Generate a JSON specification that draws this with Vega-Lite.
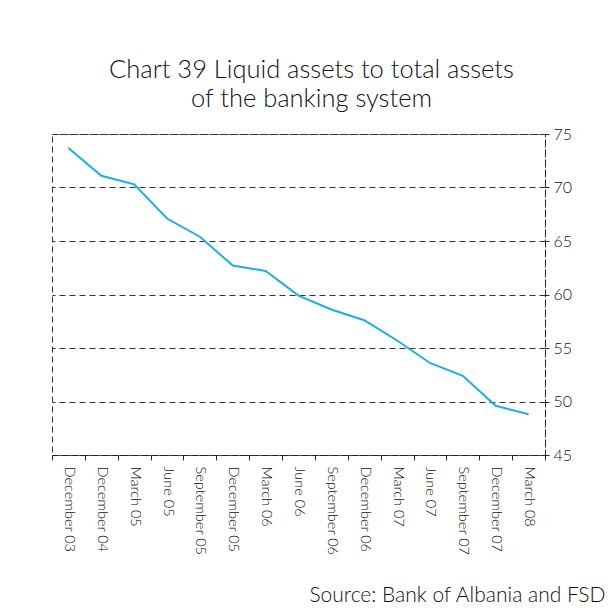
{
  "$schema": "https://vega.github.io/schema/vega-lite/v6.json",
  "width": 493,
  "height": 321,
  "autosize": {"type": "none"},
  "padding": {"left": 52, "top": 134, "right": 69, "bottom": 157},
  "background": "white",
  "title": {
    "text": ["Chart 39 Liquid assets to total assets", "of the banking system"],
    "anchor": "middle",
    "frame": "group",
    "dx": 13,
    "font": "Lato",
    "fontSize": 25.5,
    "fontWeight": 300,
    "color": "#111",
    "lineHeight": 29,
    "offset": 14
  },
  "data": {
    "values": [
      {"period": "December 03", "value": 73.7},
      {"period": "December 04", "value": 71.1},
      {"period": "March 05", "value": 70.3},
      {"period": "June 05", "value": 67.1},
      {"period": "September 05", "value": 65.4},
      {"period": "December 05", "value": 62.7},
      {"period": "March 06", "value": 62.2},
      {"period": "June 06", "value": 59.9},
      {"period": "September 06", "value": 58.6},
      {"period": "December 06", "value": 57.6},
      {"period": "March 07", "value": 55.7},
      {"period": "June 07", "value": 53.6},
      {"period": "September 07", "value": 52.4},
      {"period": "December 07", "value": 49.6},
      {"period": "March 08", "value": 48.8}
    ]
  },
  "mark": {"type": "line", "color": "#1aaee8", "strokeWidth": 2},
  "encoding": {
    "x": {
      "field": "period",
      "type": "nominal",
      "sort": null,
      "scale": {"type": "band", "paddingInner": 0, "paddingOuter": 0},
      "axis": {
        "title": "Source: Bank of Albania and FSD",
        "titleFont": "Lato",
        "titleFontSize": 21,
        "titleFontWeight": 300,
        "titleColor": "#111",
        "titleAnchor": "end",
        "titleAlign": "right",
        "titleBaseline": "alphabetic",
        "titleX": 553,
        "titleY": 146,
        "labelAngle": 90,
        "labelAlign": "left",
        "labelBaseline": "middle",
        "labelFont": "Lato",
        "labelFontSize": 14.5,
        "labelFontWeight": 300,
        "labelColor": "#111",
        "labelPadding": 6,
        "tickBand": "extent",
        "tickSize": 5,
        "tickColor": "#222",
        "domainColor": "#222",
        "domainDash": [6, 4],
        "grid": false
      }
    },
    "y": {
      "field": "value",
      "type": "quantitative",
      "scale": {"domain": [45, 75], "nice": false, "zero": false},
      "axis": {
        "orient": "right",
        "title": null,
        "values": [45, 50, 55, 60, 65, 70, 75],
        "labelFont": "Lato",
        "labelFontSize": 16,
        "labelFontWeight": 300,
        "labelColor": "#111",
        "labelPadding": 4,
        "tickSize": 4,
        "tickColor": "#222",
        "domainColor": "#222",
        "domainDash": [6, 4],
        "grid": true,
        "gridColor": "#333",
        "gridDash": [6, 4],
        "gridOpacity": 1
      }
    }
  },
  "config": {
    "view": {"stroke": "#333", "strokeDash": [6, 4]}
  }
}
